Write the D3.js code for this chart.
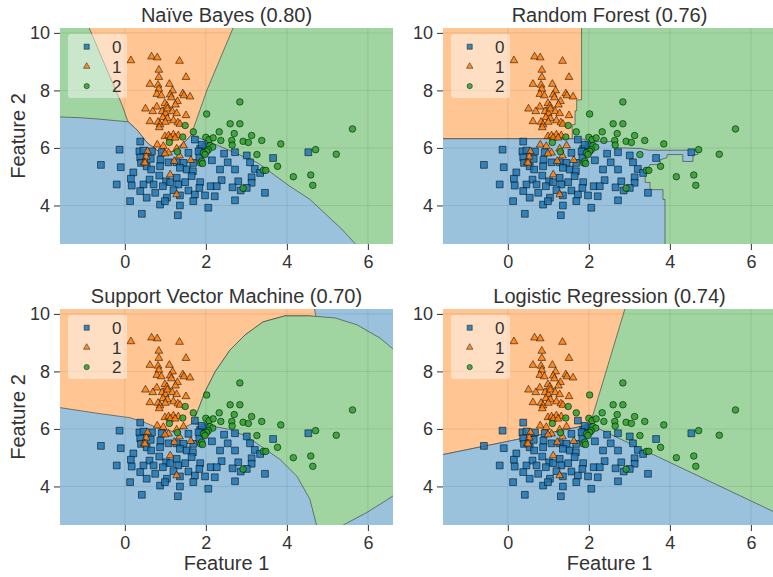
<!DOCTYPE html>
<html>
<head>
<meta charset="utf-8">
<script src="https://cdn.jsdelivr.net/npm/d3@7/dist/d3.min.js"></script>
<style>
  body { margin: 0; background: #fff; }
  text { font-family: "Liberation Sans", Arial, sans-serif; fill: #333; }
</style>
</head>
<body>
<svg id="chart" width="773" height="577"></svg>
<script>
// DATA
var classLabels = ["0", "1", "2"];
var panelTitles = ["Naïve Bayes (0.80)", "Random Forest (0.76)",
                   "Support Vector Machine (0.70)", "Logistic Regression (0.74)"];
var xTicks = [0, 2, 4, 6];
var yTicks = [4, 6, 8, 10];

// class 0 (squares)
var class0 = [
  [0.38,6.22],[-0.13,5.94],[-0.59,5.41],[-0.10,5.33],[0.36,5.88],[0.46,5.91],[0.67,5.88],
  [0.38,5.67],[0.91,5.85],[0.64,5.62],[0.88,5.59],[0.40,5.48],[0.54,5.36],[0.65,5.25],
  [0.87,5.36],[1.08,5.50],[1.28,5.50],[1.45,5.48],[1.57,5.83],[1.69,5.48],[1.73,6.29],
  [1.86,5.97],[1.84,5.69],[1.99,6.06],[1.36,5.31],[1.53,5.25],[1.68,5.19],[0.21,5.15],
  [0.15,4.93],[0.61,4.90],[0.46,4.73],[0.71,4.73],[0.85,5.04],[1.02,4.84],[1.12,4.81],
  [1.28,4.96],[1.32,4.73],[1.49,4.81],[1.65,5.02],[1.86,4.81],[-0.20,4.73],[0.17,4.69],
  [0.38,4.50],[0.75,4.44],[0.94,4.67],[1.20,4.53],[1.57,4.52],[1.73,4.38],[1.84,4.61],
  [0.54,4.27],[1.04,4.27],[1.36,4.35],[0.13,4.15],[0.87,4.03],[0.99,4.15],[1.36,4.00],
  [1.69,4.15],[1.98,4.35],[2.06,3.92],[0.42,3.71],[1.31,3.66],[2.45,5.80],[2.72,5.85],
  [3.01,5.74],[3.66,5.65],[2.54,5.50],[3.09,5.50],[3.21,5.27],[2.15,5.57],[2.35,5.25],
  [2.72,5.25],[3.34,5.13],[4.53,5.85],[2.39,4.88],[2.80,4.84],[3.13,4.98],[3.13,4.79],
  [2.12,4.67],[2.27,4.67],[2.66,4.63],[2.86,4.52],[3.01,4.61],[3.46,4.44],[2.22,4.32],
  [2.72,4.18],[1.90,6.11],[1.82,5.88]
];
// class 1 (triangles)
var class1 = [
  [0.15,9.04],[0.66,9.17],[0.80,9.14],[1.35,9.02],[0.84,8.71],[0.84,8.46],[1.51,8.46],
  [0.62,8.22],[0.82,8.19],[1.10,8.22],[0.84,8.05],[1.18,7.99],[0.79,7.87],[0.90,7.82],
  [1.12,7.85],[1.15,7.75],[1.43,7.89],[1.46,7.82],[1.61,7.78],[1.30,7.62],[1.25,7.50],
  [0.99,7.55],[1.04,7.46],[0.79,7.43],[0.51,7.36],[0.69,7.27],[0.92,7.27],[1.00,7.20],
  [1.05,7.36],[1.17,7.27],[1.28,7.20],[1.51,7.13],[0.94,7.06],[1.05,7.02],[1.20,6.95],
  [1.31,6.88],[1.36,6.83],[0.62,6.92],[0.82,6.90],[0.87,6.81],[0.85,6.71],[1.00,6.90],
  [0.99,6.40],[1.08,6.43],[1.20,6.46],[1.32,6.43],[1.12,6.35],[1.24,6.35],[0.80,6.11],
  [0.95,6.06],[1.45,6.08],[1.08,5.83],[0.99,5.80],[1.28,5.97],[0.56,5.88],[0.53,5.69],
  [0.48,5.50],[0.50,5.48],[1.35,5.73],[1.22,5.54],[1.63,5.57],[1.12,5.07],[1.28,4.38]
];
// class 2 (circles)
var class2 = [
  [2.02,7.18],[1.49,6.78],[1.43,6.38],[1.69,6.56],[1.10,6.19],[1.30,5.87],[1.96,5.80],
  [1.87,5.48],[2.84,7.60],[2.60,6.84],[2.84,6.84],[2.33,6.56],[2.70,6.50],[3.13,6.43],
  [2.00,6.37],[2.08,6.29],[2.18,6.35],[2.37,6.26],[2.64,6.26],[2.65,6.10],[2.92,6.23],
  [3.05,6.19],[3.38,6.26],[3.85,6.14],[2.10,6.08],[2.17,6.03],[2.06,5.94],[2.02,5.88],
  [1.94,5.83],[1.98,5.77],[3.26,5.77],[1.90,5.54],[1.92,5.46],[3.42,5.22],[3.48,5.22],
  [3.77,5.36],[4.16,5.00],[2.92,4.60],[5.62,6.66],[4.71,5.94],[5.22,5.78],[4.59,5.06],
  [4.64,4.70]
];

// decision regions, polygons in data units (background class fills the rest)
var nbOrange = [[-0.98,10.5],[2.77,10.5],[2.03,8.02],[1.64,6.46],[1.54,6.29],[1.19,5.87],
  [0.87,5.84],[0.55,6.18],[0.30,6.63],[0.08,6.91],[-0.07,7.50]];
var nbBlue = [[-2.0,7.10],[-1.10,7.05],[-0.61,7.00],[-0.24,6.95],[0.08,6.91],[0.30,6.63],
  [0.55,6.18],[0.87,5.84],[1.19,5.87],[1.54,6.29],[1.64,6.46],[2.43,6.01],[3.27,5.49],
  [4.08,4.66],[4.57,4.21],[5.36,3.17],[5.68,2.68],[6.05,2.13],[6.2,2.0],[-2.0,2.0]];
var rfOrange = [[-2,10.5],[1.82,10.5],[1.82,7.67],[1.70,7.67],[1.70,7.29],[1.66,7.29],
  [1.66,6.81],[1.59,6.81],[1.59,6.32],[-2,6.32]];
var rfBlue = [[-2.65,6.32],[1.66,6.32],[1.91,6.30],[1.91,6.22],[2.60,6.22],[2.60,6.01],
  [3.28,5.98],[3.48,5.92],[4.69,5.92],[4.69,5.77],[4.57,5.77],[4.57,5.53],[4.32,5.53],
  [4.32,5.77],[3.93,5.77],[3.93,5.66],[3.76,5.59],[3.76,5.42],[3.51,5.42],[3.44,5.18],
  [3.39,5.14],[3.39,4.80],[3.51,4.80],[3.51,4.55],[3.83,4.55],[3.83,4.21],[3.88,4.21],
  [3.88,2.13],[-2.65,2.13]];
var svmOrange = [[-2.09,10.48],[4.64,10.48],[4.72,9.89],[4.57,9.93],[3.95,9.93],[3.41,9.72],
  [2.97,9.27],[2.60,8.75],[2.23,7.99],[1.98,7.29],[1.81,6.67],[1.66,6.18],[1.41,6.02],
  [1.17,5.92],[0.87,6.00],[0.50,6.22],[0.13,6.39],[-0.61,6.53],[-1.60,6.74],[-2.09,6.77]];
var svmGreen = [[1.66,6.18],[1.81,6.67],[1.98,7.29],[2.23,7.99],[2.60,8.75],[2.97,9.27],
  [3.41,9.72],[3.95,9.93],[4.57,9.93],[5.19,9.86],[5.73,9.62],[6.30,9.16],[6.79,8.58],
  [6.79,3.83],[6.49,3.55],[5.98,3.10],[5.38,2.65],[5.2,2.3],[4.8,2.3],[4.74,2.61],
  [4.57,3.55],[4.25,4.35],[3.83,4.94],[3.41,5.35],[3.02,5.73],[2.60,5.98],[2.10,6.11]];
var lrOrange = [[-2.5,10.5],[2.96,10.5],[2.03,6.15],[-2.5,4.85]];
var lrBlue = [[-2.5,4.85],[2.03,6.15],[7.21,2.69],[7.21,2.0],[-2.5,2.0]];

var panelBackground = [2, 2, 0, 2];
var panelRegions = [
  [[1, nbOrange], [0, nbBlue]],
  [[1, rfOrange], [0, rfBlue]],
  [[1, svmOrange], [2, svmGreen]],
  [[1, lrOrange], [0, lrBlue]]
];

// STYLE
var markColors = ["#1f77b4", "#ff7f0e", "#2ca02c"];
var regionColors = ["#9ac2dd", "#ffc593", "#a0d4a0"];
var markTypes = [d3.symbolSquare, d3.symbolTriangle, d3.symbolCircle];
var markSizes = [46, 26, 34];
var legendSizes = [26, 18, 22];

var pw = 333, ph = 216;
var lefts = [60, 443], tops = [28, 309];

var svg = d3.select("#chart");

var x = d3.scaleLinear().domain([-1.6, 6.62]).range([0, pw]);
var y = d3.scaleLinear().domain([2.66, 10.17]).range([ph, 0]);
var line = d3.line().x(function(d){ return x(d[0]); }).y(function(d){ return y(d[1]); });

panelTitles.forEach(function(title, i) {
  var col = i % 2, row = Math.floor(i / 2);
  var g = svg.append("g")
    .attr("transform", "translate(" + lefts[col] + "," + tops[row] + ")");

  g.append("clipPath").attr("id", "clip" + i)
    .append("rect").attr("width", pw).attr("height", ph);

  var body = g.append("g").attr("clip-path", "url(#clip" + i + ")");
  body.append("rect").attr("width", pw).attr("height", ph)
    .attr("fill", regionColors[panelBackground[i]]);

  panelRegions[i].forEach(function(r) {
    body.append("path")
      .attr("d", line(r[1]) + "Z")
      .attr("fill", regionColors[r[0]])
      .attr("stroke", "#4a4a4a")
      .attr("stroke-width", 0.7)
      .attr("stroke-linejoin", "round");
  });

  // grid
  body.selectAll(".gx").data(xTicks).enter().append("line")
    .attr("x1", function(d){ return x(d); }).attr("x2", function(d){ return x(d); })
    .attr("y1", 0).attr("y2", ph)
    .attr("stroke", "#000").attr("stroke-opacity", 0.08);
  body.selectAll(".gy").data(yTicks).enter().append("line")
    .attr("y1", function(d){ return y(d); }).attr("y2", function(d){ return y(d); })
    .attr("x1", 0).attr("x2", pw)
    .attr("stroke", "#000").attr("stroke-opacity", 0.08);

  // points
  [class0, class1, class2].forEach(function(pts, c) {
    body.selectAll(".p" + c).data(pts).enter().append("path")
      .attr("d", d3.symbol().type(markTypes[c]).size(markSizes[c]))
      .attr("transform", function(d){ return "translate(" + x(d[0]) + "," + y(d[1]) + ")"; })
      .attr("fill", markColors[c])
      .attr("fill-opacity", 0.85)
      .attr("stroke", "#000")
      .attr("stroke-opacity", 0.75)
      .attr("stroke-width", 0.7);
  });

  // legend
  var lg = g.append("g").attr("transform", "translate(8,6)");
  lg.append("rect").attr("width", 59).attr("height", 64).attr("rx", 3)
    .attr("fill", "#fff").attr("fill-opacity", 0.45);
  classLabels.forEach(function(lab, c) {
    var ly = 12.7 + c * 19.7;
    lg.append("path")
      .attr("d", d3.symbol().type(markTypes[c]).size(legendSizes[c]))
      .attr("transform", "translate(18.7," + ly + ")")
      .attr("fill", markColors[c]).attr("fill-opacity", 0.85)
      .attr("stroke", "#000").attr("stroke-opacity", 0.75).attr("stroke-width", 0.6);
    lg.append("text").attr("x", 44).attr("y", ly).attr("dy", "0.36em")
      .style("font-size", "17px").text(lab);
  });

  // axes
  var xa = g.append("g").attr("transform", "translate(0," + ph + ")")
    .call(d3.axisBottom(x).tickValues(xTicks).tickSize(6).tickPadding(5));
  var ya = g.append("g")
    .call(d3.axisLeft(y).tickValues(yTicks).tickSize(6).tickPadding(4));
  [xa, ya].forEach(function(a) {
    a.select(".domain").remove();
    a.selectAll("line").attr("stroke", "#333");
    a.selectAll("text").style("font-size", "18px").attr("fill", "#333")
      .style("font-family", "'Liberation Sans', Arial, sans-serif");
  });

  g.append("text").attr("x", pw / 2).attr("y", -6)
    .attr("text-anchor", "middle").style("font-size", "20px").text(title);

  if (row == 1) {
    g.append("text").attr("x", pw / 2).attr("y", ph + 45)
      .attr("text-anchor", "middle").style("font-size", "20px").text("Feature 1");
  }
  if (col == 0) {
    g.append("text").attr("transform", "translate(-35," + (ph / 2) + ") rotate(-90)")
      .attr("text-anchor", "middle").style("font-size", "20px").text("Feature 2");
  }
});
</script>
</body>
</html>
